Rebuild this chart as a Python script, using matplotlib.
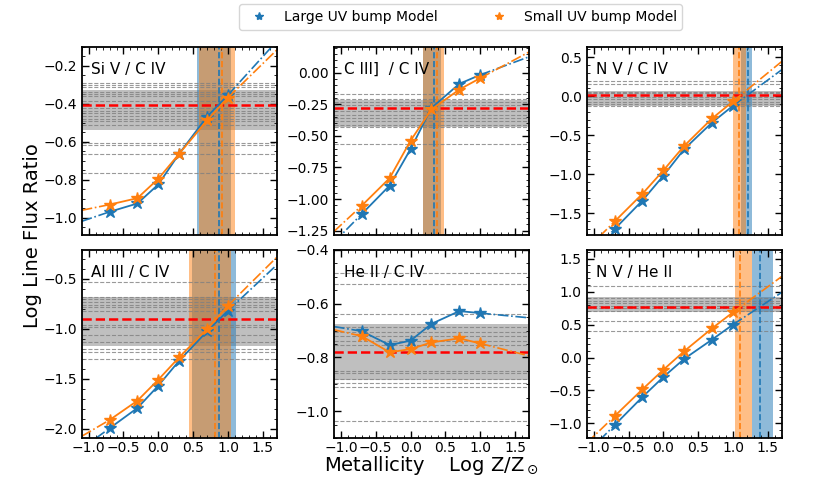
import matplotlib.pyplot as plt
import numpy as np
from matplotlib.ticker import MultipleLocator, AutoMinorLocator
from matplotlib.lines import Line2D

logz = [-0.7, -0.3, 0.0, 0.3, 0.7, 1.0]
x_lo, x_hi = -1.1, 1.7

names = ["Si V / C IV", "C III]  / C IV", "N V / C IV",
         "Al III / C IV", "He II / C IV", "N V / He II"]

# model line ratios
large = [
    [-0.968, -0.924, -0.824, -0.662, -0.467, -0.353],
    [-1.118, -0.893, -0.604, -0.278, -0.087, -0.016],
    [-1.705, -1.338, -1.021, -0.679, -0.338, -0.124],
    [-1.993, -1.790, -1.567, -1.317, -1.023, -0.817],
    [-0.7025, -0.754, -0.7375, -0.675, -0.6275, -0.635],
    [-1.025, -0.598, -0.296, -0.020, 0.272, 0.499],
]
small = [
    [-0.930, -0.896, -0.794, -0.662, -0.487, -0.367],
    [-1.052, -0.834, -0.537, -0.290, -0.132, -0.042],
    [-1.607, -1.252, -0.953, -0.637, -0.286, -0.068],
    [-1.910, -1.717, -1.507, -1.283, -1.000, -0.767],
    [-0.721, -0.781, -0.769, -0.744, -0.729, -0.748],
    [-0.889, -0.482, -0.186, 0.096, 0.443, 0.685],
]
# extrapolated values at the x-limits (left, right)
large_ext = [(-1.018, -0.07), (-1.343, 0.127), (-2.07, 0.338),
             (-2.196, -0.36), (-0.685, -0.6525), (-1.452, 0.987)]
small_ext = [(-0.96, -0.116), (-1.257, 0.165), (-1.962, 0.444),
             (-2.073, -0.283), (-0.697, -0.794), (-1.296, 1.228)]

# observed ratio, its range and the individual measurements
obs = [-0.404, -0.278, 0.013, -0.9, -0.781, 0.76]
obs_band = [(-0.538, -0.327), (-0.43, -0.213), (-0.124, 0.064),
            (-1.173, -0.683), (-0.885, -0.677), (0.685, 0.922)]
obs_lines = [
    [-0.288, -0.300, -0.313, -0.335, -0.346, -0.358, -0.385, -0.423, -0.436,
     -0.45, -0.464, -0.478, -0.49, -0.513, -0.604, -0.618, -0.662, -0.766],
    [-0.167, -0.207, -0.23, -0.252, -0.305, -0.331, -0.357, -0.384, -0.41,
     -0.429, -0.561],
    [0.197, 0.162, 0.056, 0.034, -0.009, -0.043, -0.073, -0.103, -0.124],
    [-0.527, -0.683, -0.70, -0.727, -0.76, -0.783, -0.817, -0.96, -0.983,
     -1.06, -1.133, -1.2, -1.227, -1.3],
    [-0.485, -0.525, -0.6375, -0.6875, -0.704, -0.72, -0.739, -0.754, -0.85,
     -0.859, -0.881, -0.894, -0.91, -1.0375],
    [1.087, 0.897, 0.862, 0.827, 0.787, 0.746, 0.711, 0.559, 0.398],
]

# inferred metallicity (low, best, high); None = no estimate
z_large = [(0.556, 0.866, 1.045), (0.18, 0.33, 0.43), (1.12, 1.22, 1.275),
           (0.479, 0.87, 1.118), None, (1.276, 1.387, 1.58)]
z_small = [(0.585, 0.91, 1.095), (0.18, 0.377, 0.48), (1.00, 1.08, 1.18),
           (0.441, 0.808, 1.047), None, (1.025, 1.107, 1.276)]

ylims = [(-1.09, -0.1), (-1.285, 0.205), (-1.78, 0.63),
         (-2.09, -0.21), (-1.1, -0.4), (-1.22, 1.63)]
ysteps = [0.2, 0.25, 0.5, 0.5, 0.2, 0.5]

blue = "#1f77b4"
orange = "#ff7f0e"

fig = plt.figure(figsize=(8.22, 4.86), dpi=100)
lefts = [0.0994, 0.4063, 0.7138]
bottoms = [0.5165, 0.0988]
w, h = 0.2372, 0.3868

for i in range(6):
    r, c = divmod(i, 3)
    ax = fig.add_axes([lefts[c], bottoms[r], w, h])

    lo, hi = obs_band[i]
    ax.axhspan(lo, hi, color="gray", alpha=0.5, lw=0)
    for yv in obs_lines[i]:
        ax.axhline(yv, color="gray", ls="--", lw=0.8, alpha=0.8)
    ax.axhline(obs[i], color="red", ls="--", lw=1.8)

    if z_large[i] is not None:
        a, m, b = z_large[i]
        ax.axvspan(a, b, color=blue, alpha=0.5, lw=0)
        ax.axvline(m, color=blue, ls="--", lw=1.2)
    if z_small[i] is not None:
        a, m, b = z_small[i]
        ax.axvspan(a, b, color=orange, alpha=0.5, lw=0)
        ax.axvline(m, color=orange, ls="--", lw=1.2)

    for vals, ext, col in [(large[i], large_ext[i], blue),
                           (small[i], small_ext[i], orange)]:
        ax.plot(logz, vals, "-*", color=col, lw=1.3, ms=9)
        ax.plot([x_lo, logz[0]], [ext[0], vals[0]], "-.", color=col, lw=1.2)
        ax.plot([logz[-1], x_hi], [vals[-1], ext[1]], "-.", color=col, lw=1.2)

    ax.set_xlim(x_lo, x_hi)
    ax.set_ylim(*ylims[i])
    ax.xaxis.set_major_locator(MultipleLocator(0.5))
    ax.xaxis.set_minor_locator(MultipleLocator(0.1))
    ax.yaxis.set_major_locator(MultipleLocator(ysteps[i]))
    ax.yaxis.set_minor_locator(AutoMinorLocator())
    ax.tick_params(which="both", direction="in", top=True, right=True,
                   labelsize=10)
    ax.tick_params(which="major", length=5, width=1)
    ax.tick_params(which="minor", length=2.5)
    ax.tick_params(axis="x", pad=2.5)
    for s in ax.spines.values():
        s.set_linewidth(1.3)
    if r == 0:
        ax.tick_params(labelbottom=False)
    ax.text(0.05, 0.92, names[i], transform=ax.transAxes, fontsize=11,
            va="top", ha="left")

handles = [Line2D([], [], marker="*", ls="none", color=blue, ms=6),
           Line2D([], [], marker="*", ls="none", color=orange, ms=6)]
fig.legend(handles, ["Large UV bump Model", "Small UV bump Model"],
           loc="center", bbox_to_anchor=(0.5605, 0.965), ncol=2, fontsize=10,
           frameon=True, columnspacing=3.4)

fig.text(0.04, 0.516, "Log Line Flux Ratio", rotation=90, ha="center",
         va="center", fontsize=14)
fig.text(0.524, 0.031, r"Metallicity    Log Z/Z$_\odot$", ha="center",
         va="baseline", fontsize=14)

fig.savefig("out.png", dpi=100)
